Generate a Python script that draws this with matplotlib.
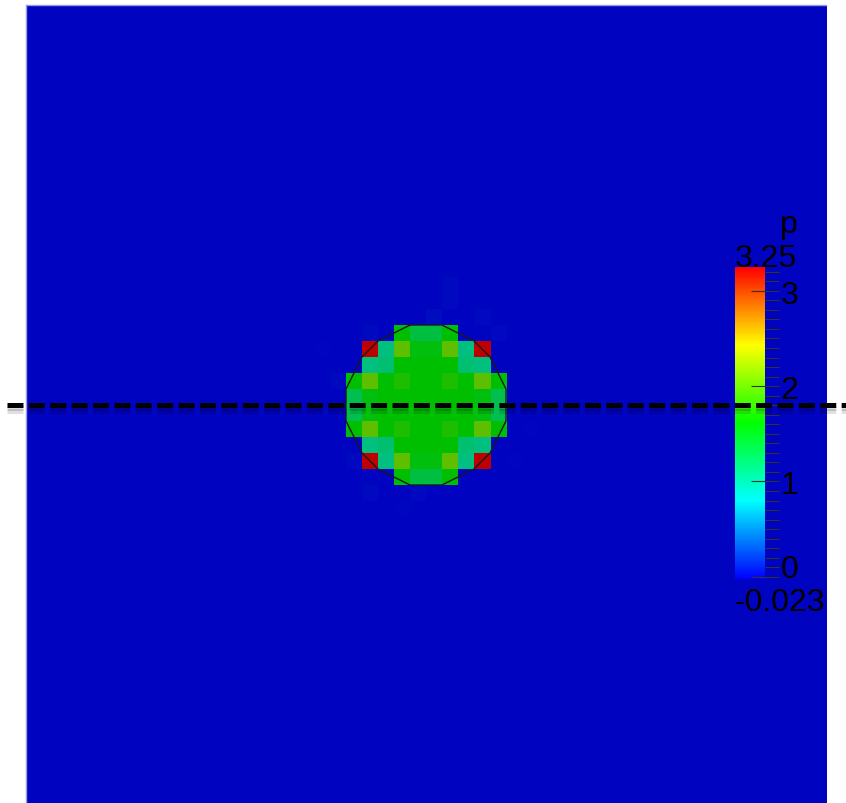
import numpy as np
import matplotlib
matplotlib.use("Agg")
import matplotlib.pyplot as plt
import matplotlib.patheffects as pe
import matplotlib.transforms as mtrans
from matplotlib.colors import LinearSegmentedColormap, Normalize, to_rgb
from matplotlib.cm import ScalarMappable

plt.rcParams['font.family'] = ['Liberation Sans', 'DejaVu Sans']
plt.rcParams['lines.scale_dashes'] = False

# field p on a 50x50 cell grid, background ~0
n_cells = 50
p_min, p_max = -0.023, 3.25
background = 0.0

# disc block: rows/cols 20..29 (top-left origin)
disc_row0, disc_col0 = 20, 20
disc = [
    [0.00, 0.00, 0.00, 1.61, 1.34, 1.34, 1.61, 0.00, 0.00, 0.00],
    [0.00, 3.25, 1.07, 2.02, 1.55, 1.55, 2.02, 1.07, 3.25, 0.00],
    [0.00, 1.07, 1.14, 1.61, 1.61, 1.61, 1.61, 1.14, 1.07, 0.00],
    [1.61, 2.02, 1.61, 1.74, 1.61, 1.61, 1.74, 1.61, 2.02, 1.61],
    [1.27, 1.55, 1.61, 1.61, 1.61, 1.61, 1.61, 1.61, 1.55, 1.27],
    [1.27, 1.55, 1.61, 1.61, 1.61, 1.61, 1.61, 1.61, 1.55, 1.27],
    [1.61, 2.02, 1.61, 1.74, 1.61, 1.61, 1.74, 1.61, 2.02, 1.61],
    [0.00, 1.07, 1.14, 1.61, 1.61, 1.61, 1.61, 1.14, 1.07, 0.00],
    [0.00, 3.25, 1.07, 2.02, 1.55, 1.55, 2.02, 1.07, 3.25, 0.00],
    [0.00, 0.00, 0.00, 1.61, 1.34, 1.34, 1.61, 0.00, 0.00, 0.00],
]

# faint cells around the disc (row, col, value)
faint_rows = [19, 18, 20, 19, 21, 23, 20, 30, 30, 31, 28, 28, 26, 17]
faint_cols = [25, 26, 21, 28, 18, 19, 29, 21, 24, 23, 20, 30, 31, 26]
faint_vals = [0.03, 0.025, 0.025, 0.025, 0.015, 0.02, 0.02, 0.02, 0.025, 0.015, 0.02, 0.015, 0.015, 0.02]

# polygon outline of the circle (cell units, relative to centre)
circ_dx = [-1, 1, 3, 4, 5, 5, 4, 3, 1, -1, -3, -4, -5, -5, -4, -3, -1]
circ_dy = [-5, -5, -4, -3, -1, 1, 3, 4, 5, 5, 4, 3, 1, -1, -3, -4, -5]
centre = 25.0

# horizontal cut line
line_y = 25.0
line_x0, line_x1 = -1.19, 51.25

# colorbar ticks
major_ticks = [0, 1, 2, 3]
minor_ticks = [round(0.1 * k, 1) for k in range(0, 33) if k % 10 != 0]

field = np.full((n_cells, n_cells), background)
field[disc_row0:disc_row0 + 10, disc_col0:disc_col0 + 10] = np.array(disc)
for r, c, v in zip(faint_rows, faint_cols, faint_vals):
    field[r, c] = v

rainbow = ['#0000ff', '#00ffff', '#00ff00', '#ffff00', '#ff0000']
cmap = LinearSegmentedColormap.from_list('pv_rainbow', rainbow)
# surface colours are darkened by the lighting
shade = 0.75
shaded = LinearSegmentedColormap.from_list(
    'pv_rainbow_lit', [tuple(shade * np.array(to_rgb(c))) for c in rainbow])
norm = Normalize(vmin=p_min, vmax=p_max)

W, H = 846, 804
fig = plt.figure(figsize=(W / 100, H / 100), dpi=100)


def frac(x0, y0, w, h):
    # pixel box (top-left origin) -> figure fraction
    return [x0 / W, (H - y0 - h) / H, w / W, h / H]


ax = fig.add_axes(frac(26, 6, 800, 800))
ax.imshow(field, cmap=shaded, norm=norm, interpolation='nearest',
          extent=(0, n_cells, n_cells, 0), aspect='auto')
ax.plot(centre + np.array(circ_dx), centre + np.array(circ_dy), color='#1a1a1a', lw=1.0)
ax.set_xlim(0, n_cells)
ax.set_ylim(n_cells, 0)
ax.set_xticks([])
ax.set_yticks([])
for s in ax.spines.values():
    s.set_visible(False)
for side in ('left', 'top'):
    ax.spines[side].set_visible(True)
    ax.spines[side].set_color('#9a9ae6')
    ax.spines[side].set_linewidth(1.0)

# colorbar
cax = fig.add_axes(frac(735, 268, 30, 312))
cb = fig.colorbar(ScalarMappable(norm=norm, cmap=cmap), cax=cax)
cb.outline.set_visible(False)
cb.set_ticks(major_ticks)
cb.set_ticklabels([str(t) for t in major_ticks])
cax.yaxis.set_ticks(minor_ticks, minor=True)
cax.tick_params(axis='y', which='major', direction='inout', length=19.5, width=0.8,
                color='#333333', labelsize=23, pad=1.5)
cax.tick_params(axis='y', which='minor', direction='out', length=10, width=0.8,
                color='#333333')
# upper labels sit a touch below their tick, "0" sits on it
for lab in cax.get_yticklabels():
    if lab.get_text() == '0':
        lab.set_va('baseline')
    else:
        lab.set_va('center')
        lab.set_transform(lab.get_transform() + mtrans.ScaledTranslation(0, -4 / 100, fig.dpi_scale_trans))

fs = 23
fig.text(798 / W, (H - 233) / H, 'p', ha='right', va='baseline', fontsize=fs)
fig.text(735 / W, (H - 267) / H, '3.25', ha='left', va='baseline', fontsize=fs)
fig.text(735 / W, (H - 611) / H, '-0.023', ha='left', va='baseline', fontsize=fs)

# overlay axes for the dashed cut line (drawn above everything)
ov = fig.add_axes(frac(26, 6, 800, 800))
ov.set_xlim(0, n_cells)
ov.set_ylim(n_cells, 0)
ov.axis('off')
ov.plot([line_x0, line_x1], [line_y, line_y], color='black', lw=3.6,
        dashes=(11.5, 3.9), solid_capstyle='butt', dash_capstyle='butt', clip_on=False,
        path_effects=[pe.SimpleLineShadow(offset=(0, -4), shadow_color='k', alpha=0.12),
                      pe.SimpleLineShadow(offset=(0, -2), shadow_color='k', alpha=0.15),
                      pe.Normal()])

fig.savefig('out.png', dpi=100)
